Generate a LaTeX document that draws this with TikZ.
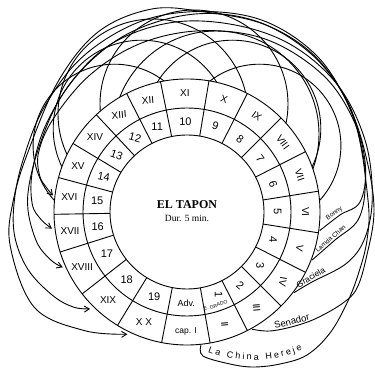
\documentclass[tikz,border=0pt]{standalone}
\usepackage{fontspec}
\setmainfont{Liberation Serif}
\setsansfont{Liberation Sans}
\usetikzlibrary{arrows.meta, decorations.text}

\begin{document}
\begin{tikzpicture}[x=1pt, y=1pt, line width=0.9pt,
    strand/.style={line join=round},
    intocell/.style={strand, -{Straight Barb[length=5pt, width=6pt]}},
    roman/.style={font=\sffamily\fontsize{10}{10}\selectfont, inner sep=0pt},
    arabic/.style={font=\sffamily\fontsize{11}{11}\selectfont, inner sep=0pt},
    who/.style={font=\sffamily\fontsize{#1}{#1}\selectfont, anchor=south, inner sep=1pt},
  ]
  \useasboundingbox (0,0) rectangle (375,369);
  \coordinate (O) at (187,157);
  \foreach \cx/\cy/\r in {153/255/95, 194/265/94, 216/235/103, 232.5/240.5/88.3, 141.5/240.5/88.3, 114.5/223.4/81.4, 259.5/223.4/81.4}
    \draw[strand] (\cx,\cy) circle (\r);
  \begin{scope}[shift={(O)}]
    % Bonny -> XVI
    \draw[intocell] plot[smooth, tension=.6] coordinates {(-8:134) (153,-3) (173,10) (14:184) (28:190) (45:193) (65:190) (85:182) (105:175) (125:168) (145:163) (158:160) (166:152) (170:143) (173:135)};
    % Lamda Chan -> XVII
    \draw[intocell] plot[smooth, tension=.6] coordinates {(-21:134) (148,-28) (171,-8) (8:180) (20:186) (35:195) (52:201) (70:203) (88:198) (108:188) (128:176) (148:166) (165:160) (177:155) (183:146) (187:136)};
    % Graciela -> XVIII
    \draw[intocell] plot[smooth, tension=.6] coordinates {(-37:134) (125,-70) (160,-51) (-8:180) (5:186) (22:192) (40:197) (58:197) (76:193) (95:190) (115:184) (135:172) (155:162) (175:160) (190:154) (199:145) (204:136)};
    % Senador -> XIX
    \draw[intocell] plot[smooth, tension=.6] coordinates {(-61:134) (83,-119) (108,-114) (130,-106) (156,-91) (170,-76) (-14:185) (0:187) (15:187) (32:193) (50:203) (68:206) (86:201) (104:196) (124:187) (144:177) (162:172) (176:173) (188:174) (200:169) (212:158) (220:148) (225:137)};
    % La China Hereje -> XX
    \draw[intocell] plot[smooth, tension=.6] coordinates {(-84:134) (16,-144) (43,-152) (66,-155) (93,-152) (120,-143) (143,-121) (160,-91) (171,-63) (180,-28) (181,12) (29:191) (49:201) (67:203) (86:201) (100:206) (116:201) (134:184) (158:170) (176:174) (191:180) (212:180) (229:157) (244:136)};

    \filldraw[fill=white] (0,0) circle (133);
    \draw (0,0) circle (104) (0,0) circle (77);
    \foreach \d in {280,297,315,333,351,9,27,45,63,80.5,101.5,117,133,149,165,181,197.5,218,238.5,259}
      \draw (\d:77) -- (\d:133);

    \node[roman, font=\sffamily\fontsize{8.5}{8.5}\selectfont] (capI) at (269.5:119) {cap. I};
    \foreach \t/\a/\r [count=\k] in {II/288.5/95, III/306/95, IV/324/-100, V/342/-100, VI/0/-90, VII/18/-72, VIII/36/-54, IX/54/-36, X/71.75/-18, XI/91/0, XII/109.25/5, XIII/125/5, XIV/141/0, XV/157/0, XVI/173/0, XVII/189.25/0, XVIII/207.75/0, XIX/228.25/0, X X/248.75/0}
      \node[roman, rotate=\r] (o\k) at (\a:118.5) {\t};

    \node[arabic, font=\sffamily\fontsize{9}{9}\selectfont] (adv) at (269.5:91) {Adv.};
    \node[arabic, rotate=-90] (one) at (291:88) {1};
    \node[font=\sffamily\fontsize{5}{5}\selectfont, rotate=17] (grado) at (287:98) {E. GRADO};
    \foreach \t/\a/\r [count=\k] in {2/306/-40, 3/324/-90, 4/342/-90, 5/0/-90, 6/18/-72, 7/36/-54, 8/54/-36, 9/71.75/-18, 10/91/0, 11/109.25/0, 12/125/-15, 13/141/-20, 14/157/-10, 15/173/0, 16/189.25/0, 17/207.75/0, 18/228.25/0, 19/248.75/0}
      \node[arabic, rotate=\r] (i\k) at (\a:90.5) {\t};

    \node[font=\bfseries\fontsize{12}{12}\selectfont] (title) at (0,7) {EL TAPON};
    \node[font=\fontsize{9.5}{9.5}\selectfont] (dur) at (0,-6) {Dur. 5 min.};

    \node[who=6.5, rotate=37] (bonny) at (150,-5) {Bonny};
    \node[who=6.5, rotate=41] (lamda) at (146,-29.5) {Lamda Chan};
    \node[who=8.5, rotate=30] (graciela) at (126,-69.5) {Graciela};
    \node[who=9.5, rotate=14] (senador) at (106,-114) {Senador};
    \path[decorate, decoration={text along path, text align={fit to path},
        text={|\sffamily\fontsize{9}{9}\selectfont|La China Hereje}}]
      (65,-19) ++(250:129) arc[start angle=250, end angle=293, radius=129];
  \end{scope}
\end{tikzpicture}
\end{document}
